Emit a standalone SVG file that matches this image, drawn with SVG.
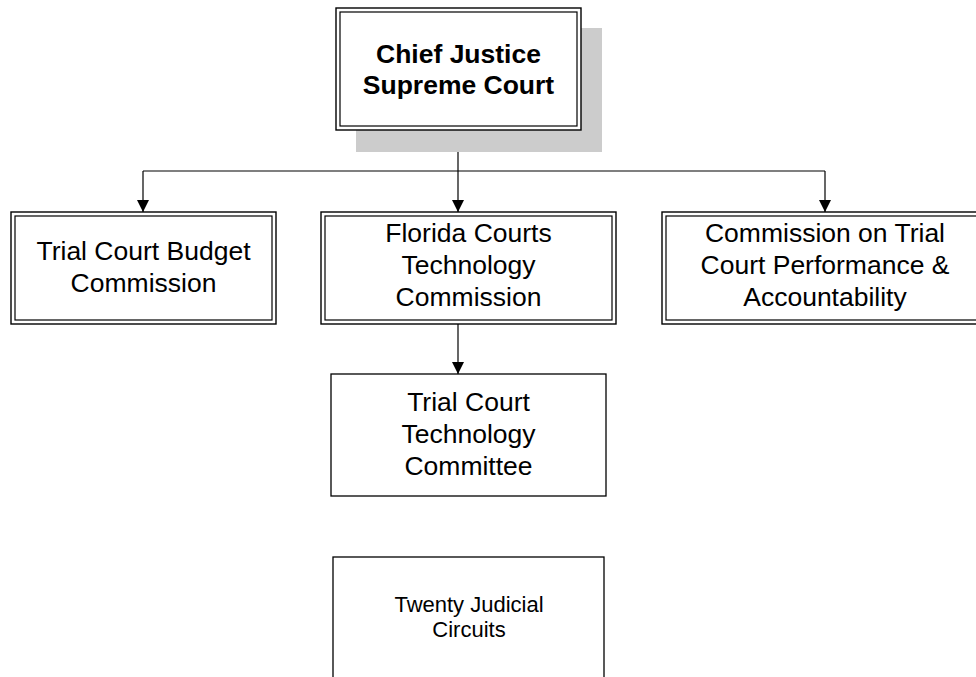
<svg xmlns="http://www.w3.org/2000/svg" width="976" height="677" viewBox="0 0 976 677">
<defs>
<marker id="arr" markerUnits="userSpaceOnUse" markerWidth="12" markerHeight="12" refX="12" refY="6" orient="auto" viewBox="0 0 12 12">
<path d="M0,0 L12,6 L0,12 Z" fill="#000"/>
</marker>
</defs>
<style>
.outer{fill:#fff;stroke:#000;stroke-width:1.4}
.inner{fill:none;stroke:#000;stroke-width:1.2}
.single{fill:#fff;stroke:#000;stroke-width:1.3}
.t{font-family:"Liberation Sans",Arial,sans-serif;font-size:26.5px;fill:#000;text-anchor:middle}
.b{font-weight:bold}
.s{font-size:22px}
.c{fill:none;stroke:#000;stroke-width:1.2}
</style>
<rect width="976" height="677" fill="#fff"/>
<g id="connectors">
<line class="c" x1="458" y1="130" x2="458" y2="171"/>
<line class="c" x1="143" y1="171" x2="825" y2="171"/>
<line class="c" x1="143" y1="171" x2="143" y2="212" marker-end="url(#arr)"/>
<line class="c" x1="458" y1="171" x2="458" y2="212" marker-end="url(#arr)"/>
<line class="c" x1="825" y1="171" x2="825" y2="212" marker-end="url(#arr)"/>
<line class="c" x1="458" y1="324" x2="458" y2="374" marker-end="url(#arr)"/>
</g>
<g id="chief">
<rect x="356" y="28" width="246" height="124" fill="#cccccc"/>
<rect class="outer" x="336" y="8" width="245" height="122"/>
<rect class="inner" x="340" y="12" width="237" height="114"/>
<text class="t b" x="458.5" y="63">Chief Justice</text>
<text class="t b" x="458.5" y="94">Supreme Court</text>
</g>
<g id="budget">
<rect class="outer" x="11" y="212" width="265" height="112"/>
<rect class="inner" x="15" y="216" width="257" height="104"/>
<text class="t" x="143.5" y="260">Trial Court Budget</text>
<text class="t" x="143.5" y="292">Commission</text>
</g>
<g id="fctc">
<rect class="outer" x="321" y="212" width="295" height="112"/>
<rect class="inner" x="325" y="216" width="287" height="104"/>
<text class="t" x="468.5" y="242">Florida Courts</text>
<text class="t" x="468.5" y="274">Technology</text>
<text class="t" x="468.5" y="306">Commission</text>
</g>
<g id="commission">
<rect class="outer" x="662" y="212" width="326" height="112"/>
<rect class="inner" x="666" y="216" width="318" height="104"/>
<text class="t" x="825" y="242">Commission on Trial</text>
<text class="t" x="825" y="274">Court Performance &amp;</text>
<text class="t" x="825" y="306">Accountability</text>
</g>
<g id="tctc">
<rect class="single" x="331" y="374" width="275" height="122"/>
<text class="t" x="468.5" y="411">Trial Court</text>
<text class="t" x="468.5" y="443">Technology</text>
<text class="t" x="468.5" y="475">Committee</text>
</g>
<g id="circuits">
<rect class="single" x="333" y="557" width="271" height="140"/>
<text class="t s" x="469" y="612">Twenty Judicial</text>
<text class="t s" x="469" y="637">Circuits</text>
</g>
</svg>
